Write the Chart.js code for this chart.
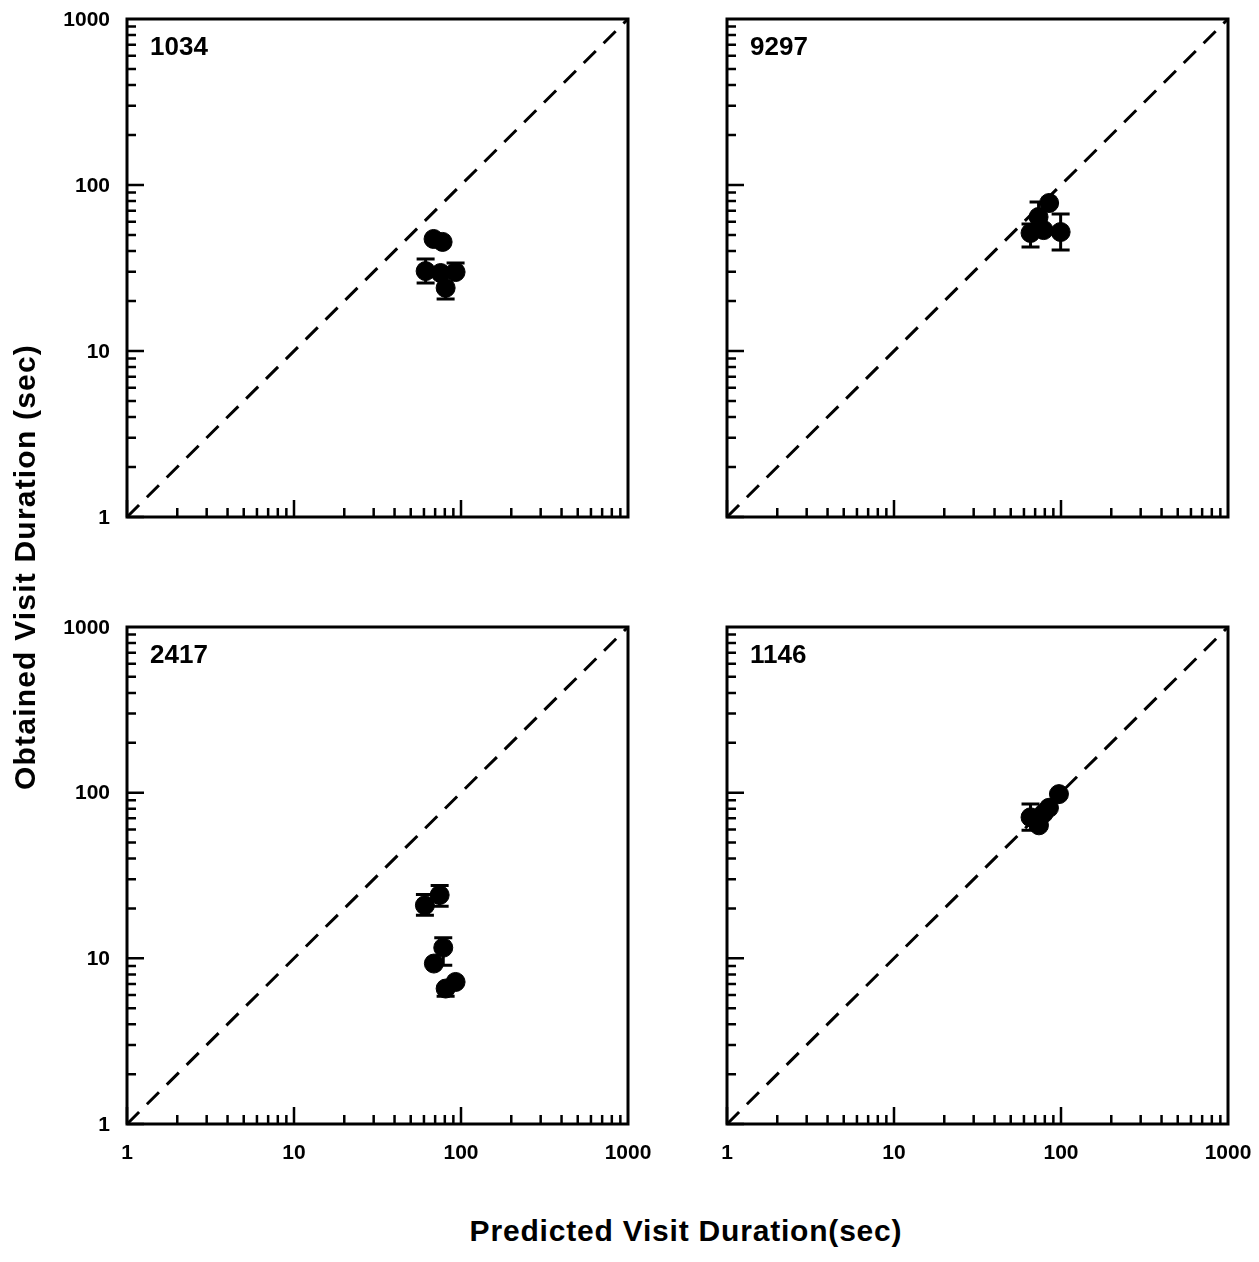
<!DOCTYPE html>
<html>
<head>
<meta charset="utf-8">
<script src="https://cdn.jsdelivr.net/npm/chart.js@4.4.0/dist/chart.umd.min.js"></script>
<style>
  body { margin: 0; background: #fff; }
  #wrap { position: relative; width: 1259px; height: 1262px; overflow: hidden;
          font-family: "Liberation Sans", Arial, sans-serif; font-weight: bold; color: #000; }
  .panel { position: absolute; }
  #xTitle { position: absolute; left: 686px; top: 1214px; transform: translateX(-50%);
            font-size: 30px; line-height: 34px; letter-spacing: 0.8px; white-space: nowrap; }
  #yTitle { position: absolute; left: 25px; top: 567px; transform: translate(-50%, -50%) rotate(-90deg);
            font-size: 30px; line-height: 34px; letter-spacing: 1.2px; white-space: nowrap; }
</style>
</head>
<body>
<div id="wrap">
  <canvas id="p1034" class="panel" width="660" height="580" style="left:0;top:0"></canvas>
  <canvas id="p9297" class="panel" width="599" height="580" style="left:660px;top:0"></canvas>
  <canvas id="p2417" class="panel" width="660" height="620" style="left:0;top:580px"></canvas>
  <canvas id="p1146" class="panel" width="599" height="620" style="left:660px;top:580px"></canvas>
  <div id="yTitle">Obtained Visit Duration (sec)</div>
  <div id="xTitle">Predicted Visit Duration(sec)</div>
</div>
<script>
// Valores de los ejes (escala logarítmica)
var decades = [1, 10, 100, 1000];
var tickLabels = ['1', '10', '100', '1000'];
var minorSteps = [2, 3, 4, 5, 6, 7, 8, 9];

// Panel 1034
var predicted1034 = [68.5, 77.6, 61.4, 75.5, 92.8, 80.9];
var obtained1034  = [47.3, 45.4, 30.3, 29.5, 29.9, 24.0];
var errLow1034    = [null, null, 25.7, null, null, 20.6];
var errHigh1034   = [null, null, 35.8, null, 33.9, null];

// Panel 9297
var predicted9297 = [84.9, 73.4, 65.7, 99.5, 78.7];
var obtained9297  = [77.9, 64.2, 51.4, 52.1, 53.5];
var errLow9297    = [null, null, 42.3, 40.6, null];
var errHigh9297   = [null, 79.0, 58.3, 66.8, null];

// Panel 2417
var predicted2417 = [74.5, 60.8, 78.3, 68.8, 92.8, 80.9];
var obtained2417  = [24.1, 20.9, 11.6, 9.3, 7.2, 6.57];
var errLow2417    = [20.6, 18.2, 9.08, null, null, 5.9];
var errHigh2417   = [27.5, 24.3, 13.3, null, null, null];

// Panel 1146
var predicted1146 = [97.2, 84.7, 65.7, 73.8, 78.7];
var obtained1146  = [98.0, 81.0, 71.0, 63.5, 75.0];
var errLow1146    = [null, null, 59.3, null, null];
var errHigh1146   = [null, null, 85.5, null, null];

var FONT = '"Liberation Sans", Arial, sans-serif';

// Crea un panel con su propio gráfico
function makePanel(id, name, xs, ys, lo, hi, box) {
    var points = xs.map(function (x, i) { return { x: x, y: ys[i] }; });

    var decor = {
        id: 'decor',
        beforeDatasetsDraw: function (chart) {
            var ctx = chart.ctx, sx = chart.scales.x, sy = chart.scales.y;
            ctx.save();
            ctx.strokeStyle = '#000';
            ctx.lineWidth = 3;
            xs.forEach(function (x, i) {
                var px = sx.getPixelForValue(x);
                var top = hi[i] != null ? hi[i] : ys[i];
                var bot = lo[i] != null ? lo[i] : ys[i];
                var pt = sy.getPixelForValue(top), pb = sy.getPixelForValue(bot);
                ctx.beginPath();
                ctx.moveTo(px, pt); ctx.lineTo(px, pb);
                if (hi[i] != null) { ctx.moveTo(px - 9, pt); ctx.lineTo(px + 9, pt); }
                if (lo[i] != null) { ctx.moveTo(px - 9, pb); ctx.lineTo(px + 9, pb); }
                ctx.stroke();
            });
            ctx.restore();
        },
        afterDraw: function (chart) {
            var ctx = chart.ctx, a = chart.chartArea;
            var sx = chart.scales.x, sy = chart.scales.y;
            ctx.save();
            ctx.strokeStyle = '#000';
            ctx.fillStyle = '#000';
            // Marcas hacia dentro
            ctx.lineWidth = 2.5;
            ctx.beginPath();
            decades.slice(0, 3).forEach(function (d) {
                [1].concat(minorSteps).forEach(function (m) {
                    var v = d * m;
                    var len = m === 1 ? 17 : 9;
                    var px = sx.getPixelForValue(v);
                    ctx.moveTo(px, a.bottom); ctx.lineTo(px, a.bottom - len);
                    var py = sy.getPixelForValue(v);
                    ctx.moveTo(a.left, py); ctx.lineTo(a.left + len, py);
                });
            });
            ctx.stroke();
            // Marco
            ctx.lineWidth = 3;
            ctx.strokeRect(a.left, a.top, a.right - a.left, a.bottom - a.top);
            // Etiquetas de los ejes
            ctx.font = 'bold 21px ' + FONT;
            decades.forEach(function (v, i) {
                if (box.yLabels) {
                    ctx.textAlign = 'right';
                    ctx.textBaseline = 'middle';
                    ctx.fillText(tickLabels[i], a.left - 17, sy.getPixelForValue(v) + 1);
                }
                if (box.xLabels) {
                    ctx.textAlign = 'center';
                    ctx.textBaseline = 'middle';
                    ctx.fillText(tickLabels[i], sx.getPixelForValue(v), a.bottom + 29);
                }
            });
            // Etiqueta del panel
            ctx.font = 'bold 26px ' + FONT;
            ctx.textAlign = 'left';
            ctx.textBaseline = 'alphabetic';
            ctx.fillText(name, a.left + 23, a.top + 36);
            ctx.restore();
        }
    };

    return new Chart(document.getElementById(id), {
        type: 'scatter',
        data: {
            datasets: [
                {
                    data: points,
                    backgroundColor: '#000',
                    borderColor: '#000',
                    pointRadius: 9.5,
                    pointHoverRadius: 9.5
                },
                {
                    data: [{ x: 1, y: 1 }, { x: 1000, y: 1000 }],
                    showLine: true,
                    borderColor: '#000',
                    borderWidth: 3,
                    borderDash: [17, 11],
                    pointRadius: 0
                }
            ]
        },
        options: {
            responsive: false,
            animation: false,
            layout: { padding: { top: box.padTop, right: box.padRight, left: 0, bottom: 0 } },
            plugins: { legend: { display: false }, tooltip: { enabled: false } },
            scales: {
                x: {
                    type: 'logarithmic', min: 1, max: 1000,
                    grid: { display: false }, border: { display: false },
                    afterBuildTicks: function (s) { s.ticks = decades.map(function (v) { return { value: v }; }); },
                    afterFit: function (s) { s.height = box.xHeight; },
                    ticks: { display: false }
                },
                y: {
                    type: 'logarithmic', min: 1, max: 1000,
                    grid: { display: false }, border: { display: false },
                    afterBuildTicks: function (s) { s.ticks = decades.map(function (v) { return { value: v }; }); },
                    afterFit: function (s) { s.width = box.yWidth; },
                    ticks: { display: false }
                }
            }
        },
        plugins: [decor]
    });
}

makePanel('p1034', '1034', predicted1034, obtained1034, errLow1034, errHigh1034,
    { padTop: 19, padRight: 32, xHeight: 63, yWidth: 127, xLabels: false, yLabels: true });
makePanel('p9297', '9297', predicted9297, obtained9297, errLow9297, errHigh9297,
    { padTop: 19, padRight: 31, xHeight: 63, yWidth: 67, xLabels: false, yLabels: false });
makePanel('p2417', '2417', predicted2417, obtained2417, errLow2417, errHigh2417,
    { padTop: 47, padRight: 32, xHeight: 76, yWidth: 127, xLabels: true, yLabels: true });
makePanel('p1146', '1146', predicted1146, obtained1146, errLow1146, errHigh1146,
    { padTop: 47, padRight: 31, xHeight: 76, yWidth: 67, xLabels: true, yLabels: false });
</script>
</body>
</html>
